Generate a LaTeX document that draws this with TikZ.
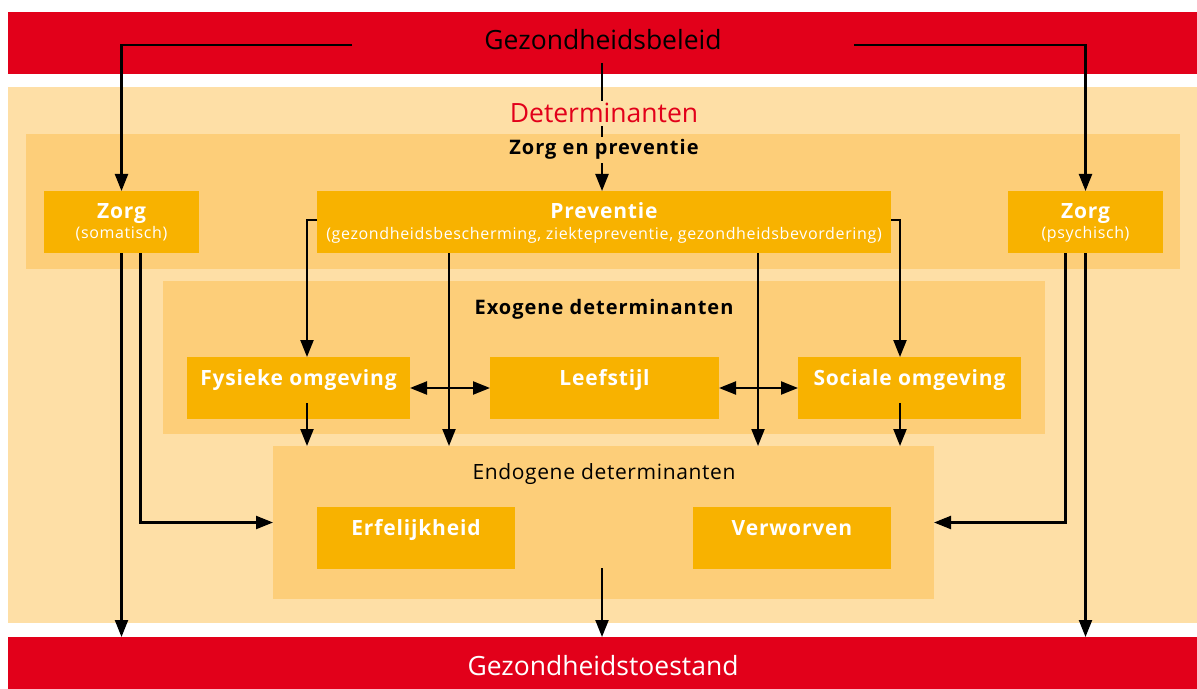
\documentclass[tikz,border=0pt]{standalone}
\usepackage{fontspec}
\setmainfont{Open Sans}
\usetikzlibrary{arrows.meta,calc}
\definecolor{rood}{HTML}{E2001A}
\definecolor{licht}{HTML}{FEDFA6}
\definecolor{paneel}{HTML}{FDCE79}
\definecolor{blok}{HTML}{F8B200}
\begin{document}
\begin{tikzpicture}[x=1bp,y=-1bp,
  area/.style={draw=none, inner sep=0pt, outer sep=0pt, anchor=north west},
  blokbox/.style={area, fill=blok, minimum height=62bp},
  arr/.style={line width=2.2bp, draw=black, -{Triangle[length=17bp,width=13bp]}},
  arrtwee/.style={line width=2.2bp, draw=black, {Triangle[length=17bp,width=13bp]}-{Triangle[length=17bp,width=13bp]}},
  groot/.style={font=\fontsize{26.5bp}{30bp}\selectfont, inner sep=0pt, anchor=base},
  kop/.style={font=\bfseries\fontsize{20bp}{24bp}\selectfont\addfontfeatures{LetterSpace=5}, inner sep=0pt, anchor=base},
  koplicht/.style={font=\fontsize{21bp}{24bp}\selectfont\addfontfeatures{LetterSpace=3}, inner sep=0pt, anchor=base},
  bloktxt/.style={font=\bfseries\fontsize{21bp}{24bp}\selectfont\addfontfeatures{LetterSpace=4}, text=white, inner sep=0pt, anchor=base},
  kleintxt/.style={font=\fontsize{16bp}{19bp}\selectfont\addfontfeatures{LetterSpace=4}, text=white, inner sep=0pt, anchor=base}
]
\fill[white] (0,0) rectangle (1197,689);
\useasboundingbox (0,0) rectangle (1197,689);
% bands and panels
\node[area, fill=rood, minimum width=1189bp, minimum height=62bp] (beleid) at (8,12) {};
\node[area, fill=licht, minimum width=1189bp, minimum height=536bp] (determ) at (8,87) {};
\node[area, fill=rood, minimum width=1189bp, minimum height=52bp] (toestand) at (8,637) {};
\node[area, fill=paneel, minimum width=1154bp, minimum height=135bp] (zorgprev) at (26,134) {};
\node[area, fill=paneel, minimum width=882bp, minimum height=153bp] (exo) at (163,281) {};
\node[area, fill=paneel, minimum width=661bp, minimum height=153bp] (endo) at (273,446) {};
% boxes
\node[blokbox, minimum width=155bp] (zs) at (44,191) {};
\node[blokbox, minimum width=574bp] (prev) at (317,191) {};
\node[blokbox, minimum width=155bp] (zps) at (1008,191) {};
\node[blokbox, minimum width=223bp] (fys) at (187,357) {};
\node[blokbox, minimum width=229bp] (leef) at (490,357) {};
\node[blokbox, minimum width=223bp] (soc) at (798,357) {};
\node[blokbox, minimum width=198bp] (erf) at (317,507) {};
\node[blokbox, minimum width=198bp] (verw) at (693,507) {};
% free ends
\coordinate (bl) at (352,45);
\coordinate (br) at (854,45);
\coordinate (bm) at (602,63);
% connectors
\draw[arr] (bl) -| (zs.north);
\draw[arr] (br) -| (zps.north);
\draw[arr] (bm) -- (bm |- prev.north);
\draw[arr] (zs.south) -- (zs.south |- toestand.north);
\draw[arr] ([xshift=19bp]zs.south) |- (endo.west);
\draw[arr] ([xshift=-20bp]zps.south) |- (endo.east);
\draw[arr] (zps.south) -- (zps.south |- toestand.north);
\draw[arr] ([yshift=2bp]prev.west) -| ([xshift=8.5bp]fys.north);
\draw[arr] ([yshift=2bp]prev.east) -| ([xshift=-9.5bp]soc.north);
\draw[arr] ([xshift=-155bp]prev.south) -- ([xshift=-155bp]prev.south |- endo.north);
\draw[arr] ([xshift=154bp]prev.south) -- ([xshift=154bp]prev.south |- endo.north);
\draw[arr] ([xshift=8.5bp,yshift=16bp]fys.south) -- ([xshift=8.5bp]fys.south |- endo.north);
\draw[arr] ([xshift=-9.5bp,yshift=16bp]soc.south) -- ([xshift=-9.5bp]soc.south |- endo.north);
\draw[arrtwee] (fys.east) -- (leef.west);
\draw[arrtwee] (leef.east) -- (soc.west);
\draw[arr] ([xshift=-1.5bp,yshift=31bp]endo.south) -- ([xshift=-1.5bp]endo.south |- toestand.north);
% texts
\node[groot, text=black] (tbeleid) at (603,50) {Gezondheidsbeleid};
\node[groot, text=rood, fill=licht, inner ysep=3bp, inner xsep=2bp] (tdeterm) at (604,123) {Determinanten};
\node[kop, fill=paneel, inner ysep=3bp, inner xsep=2bp] (tzorgprev) at (604,155) {Zorg en preventie};
\node[kop] (texo) at (604,314) {Exogene determinanten};
\node[koplicht] (tendo) at (604,479) {Endogene determinanten};
\node[groot, text=white] (ttoestand) at (603,675) {Gezondheidstoestand};
\node[bloktxt] (tzs) at ([yshift=-27bp]zs.north) {Zorg};
\node[kleintxt] (tzs2) at ([yshift=-47bp]zs.north) {(somatisch)};
\node[bloktxt] (tprev) at ([yshift=-27bp]prev.north) {Preventie};
\node[kleintxt] (tprev2) at ([yshift=-48bp]prev.north) {(gezondheidsbescherming, ziektepreventie, gezondheidsbevordering)};
\node[bloktxt] (tzps) at ([yshift=-27bp]zps.north) {Zorg};
\node[kleintxt] (tzps2) at ([yshift=-47bp]zps.north) {(psychisch)};
\node[bloktxt] (tfys) at ([yshift=-28bp]fys.north) {Fysieke omgeving};
\node[bloktxt] (tleef) at ([yshift=-28bp]leef.north) {Leefstijl};
\node[bloktxt] (tsoc) at ([yshift=-28bp]soc.north) {Sociale omgeving};
\node[bloktxt] (terf) at ([yshift=-28bp]erf.north) {Erfelijkheid};
\node[bloktxt] (tverw) at ([yshift=-28bp]verw.north) {Verworven};
\end{tikzpicture}
\end{document}
